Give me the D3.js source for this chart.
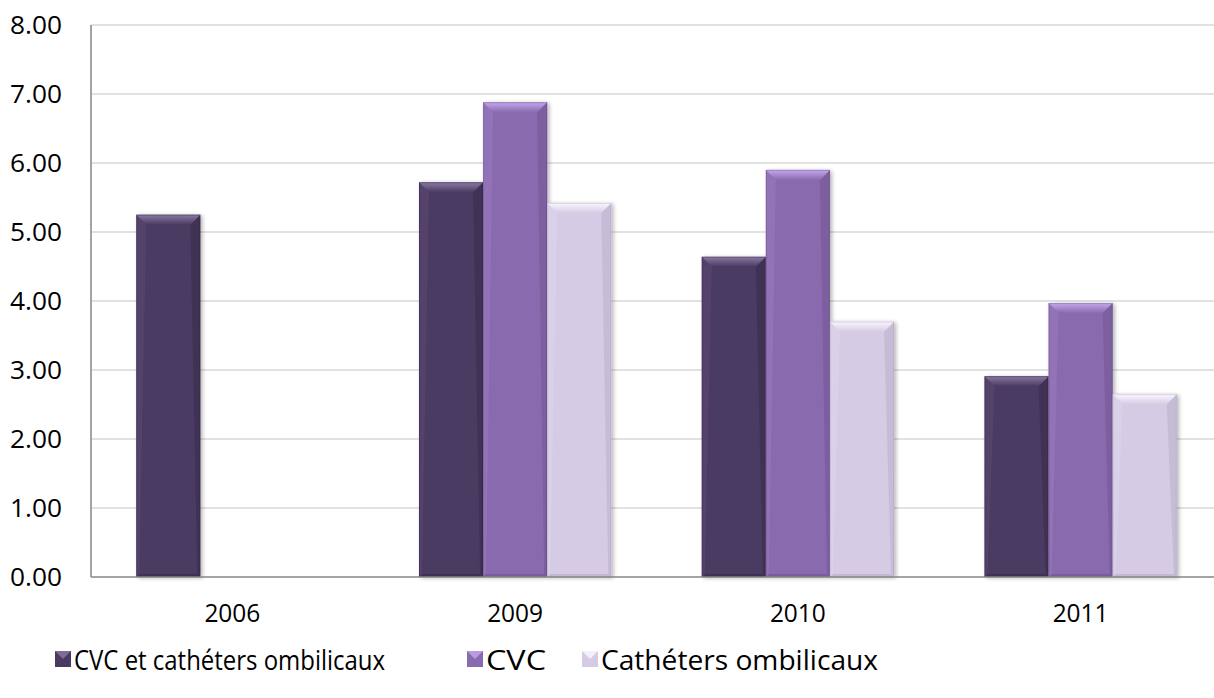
<!DOCTYPE html>
<html>
<head>
<meta charset="utf-8">
<script src="https://cdn.jsdelivr.net/npm/d3@7"></script>
<style>
  html, body { margin: 0; padding: 0; background: #fff; }
  svg { display: block; font-family: "Open Sans", "Noto Sans", sans-serif; }
</style>
</head>
<body>
<svg id="chart" width="1214" height="698"></svg>
<script>
// Years on the category axis
const categories = ["2006", "2009", "2010", "2011"];
// Series names (legend order)
const seriesNames = ["CVC et cathéters ombilicaux", "CVC", "Cathéters ombilicaux"];
// Values per series, aligned with categories (null = no bar)
const cvcEtOmbilicaux = [5.25, 5.72, 4.64, 2.91];
const cvc = [null, 6.88, 5.90, 3.97];
const ombilicaux = [null, 5.42, 3.70, 2.65];
// Value axis ticks
const yTicks = [0, 1, 2, 3, 4, 5, 6, 7, 8];

const seriesValues = [cvcEtOmbilicaux, cvc, ombilicaux];
const colors = ["#4a3a62", "#8a6aae", "#d5cbe4"];
const light = ["#8a7aa3", "#c4a8ee", "#fbf8ff"];
const dark = ["#2c2239", "#5f4782", "#a99cbd"];

const svg = d3.select("#chart");
const margin = { left: 91, right: -8, top: 25, bottom: 121 };
const W = 1214, H = 698;

const x = d3.scaleBand().domain(categories).range([margin.left, W - margin.right]).paddingInner(0).paddingOuter(0);
const groupW = x.bandwidth() * 0.68;
const xs = d3.scaleBand().domain(d3.range(seriesNames.length)).range([0, groupW]);
const y = d3.scaleLinear().domain([0, 8]).range([H - margin.bottom, margin.top]);

const defs = svg.append("defs");
const shadow = defs.append("filter").attr("id", "shadow").attr("x", "-20%").attr("y", "-5%").attr("width", "140%").attr("height", "115%");
shadow.append("feGaussianBlur").attr("in", "SourceAlpha").attr("stdDeviation", 2);
shadow.append("feOffset").attr("dx", 2).attr("dy", 1).attr("result", "b");
shadow.append("feComponentTransfer").append("feFuncA").attr("type", "linear").attr("slope", 0.3);
const m = shadow.append("feMerge");
m.append("feMergeNode");
m.append("feMergeNode").attr("in", "SourceGraphic");

// Top bevel gradients, one per series
colors.forEach((c, i) => {
  const gr = defs.append("linearGradient").attr("id", "top" + i).attr("x1", 0).attr("y1", 0).attr("x2", 0).attr("y2", 1);
  gr.append("stop").attr("offset", "0%").attr("stop-color", light[i]);
  gr.append("stop").attr("offset", "100%").attr("stop-color", c);
});

// Gridlines
svg.append("g")
  .selectAll("line").data(yTicks.filter(d => d > 0)).join("line")
  .attr("x1", margin.left).attr("x2", W)
  .attr("y1", d => y(d)).attr("y2", d => y(d))
  .attr("stroke", "#d9d9d9").attr("stroke-width", 1.5);

// Bars with bevelled edges
const bev = 10;
seriesValues.forEach((vals, si) => {
  const g = svg.append("g");
  categories.forEach((c, ci) => {
    const v = vals[ci];
    if (v == null) return;
    const x0 = x(c) + (x.bandwidth() - groupW) / 2 + xs(si);
    const w = xs.bandwidth();
    const y0 = y(v), y1 = y(0);
    const h = y1 - y0;
    const bar = g.append("g").attr("filter", "url(#shadow)");
    bar.append("rect").attr("x", x0).attr("y", y0).attr("width", w).attr("height", h).attr("fill", colors[si]);
    const b = Math.min(bev, h / 2);
    // left and right bevel faces
    bar.append("path").attr("d", `M${x0},${y0}L${x0 + b},${y0 + b}L${x0 + 3},${y1 - 3}L${x0},${y1}Z`)
      .attr("fill", light[si]).attr("opacity", 0.15);
    bar.append("path").attr("d", `M${x0 + w},${y0}L${x0 + w - b},${y0 + b}L${x0 + w - 3},${y1 - 3}L${x0 + w},${y1}Z`)
      .attr("fill", dark[si]).attr("opacity", 0.3);
    // top bevel face
    bar.append("path").attr("d", `M${x0},${y0}L${x0 + w},${y0}L${x0 + w - b},${y0 + b}L${x0 + b},${y0 + b}Z`)
      .attr("fill", `url(#top${si})`);
    // bottom edge
    bar.append("path").attr("d", `M${x0},${y1}L${x0 + 3},${y1 - 3}L${x0 + w - 3},${y1 - 3}L${x0 + w},${y1}Z`)
      .attr("fill", dark[si]).attr("opacity", 0.4);
    // thin outline
    bar.append("rect").attr("x", x0 + 0.5).attr("y", y0 + 0.5).attr("width", w - 1).attr("height", h - 1)
      .attr("fill", "none").attr("stroke", dark[si]).attr("stroke-opacity", 0.35);
  });
});

// Axis lines
svg.append("line").attr("x1", margin.left).attr("x2", margin.left).attr("y1", y(8)).attr("y2", y(0))
  .attr("stroke", "#868686").attr("stroke-width", 1.5);
svg.append("line").attr("x1", margin.left).attr("x2", W).attr("y1", y(0)).attr("y2", y(0))
  .attr("stroke", "#868686").attr("stroke-width", 1.5);

// Y tick labels
svg.append("g").selectAll("text").data(yTicks).join("text")
  .attr("x", 62).attr("y", d => y(d)).attr("dy", "0.35em")
  .attr("text-anchor", "end").attr("font-size", 25).attr("fill", "#000")
  .attr("textLength", 52).attr("lengthAdjust", "spacingAndGlyphs")
  .text(d => d3.format(".2f")(d));

// X tick labels
svg.append("g").selectAll("text").data(categories).join("text")
  .attr("x", d => x(d) + x.bandwidth() / 2).attr("y", 613).attr("dy", "0.35em")
  .attr("text-anchor", "middle").attr("font-size", 26).attr("fill", "#000")
  .attr("textLength", 56).attr("lengthAdjust", "spacingAndGlyphs")
  .text(d => d);

// Legend
const legendX = [55, 467, 582];
const legendTextLen = [311, 60, 277];
const lg = svg.append("g");
seriesNames.forEach((name, i) => {
  const gx = legendX[i];
  const s = lg.append("g");
  s.append("rect").attr("x", gx).attr("y", 651).attr("width", 16).attr("height", 16).attr("fill", colors[i]);
  s.append("path").attr("d", `M${gx},651L${gx + 16},651L${gx + 8},659Z`).attr("fill", light[i]).attr("opacity", 0.8);
  s.append("text").attr("x", gx + 19).attr("y", 660).attr("dy", "0.35em")
    .attr("font-size", 28).attr("fill", "#000")
    .attr("textLength", legendTextLen[i]).attr("lengthAdjust", "spacingAndGlyphs")
    .text(name);
});
</script>
</body>
</html>
